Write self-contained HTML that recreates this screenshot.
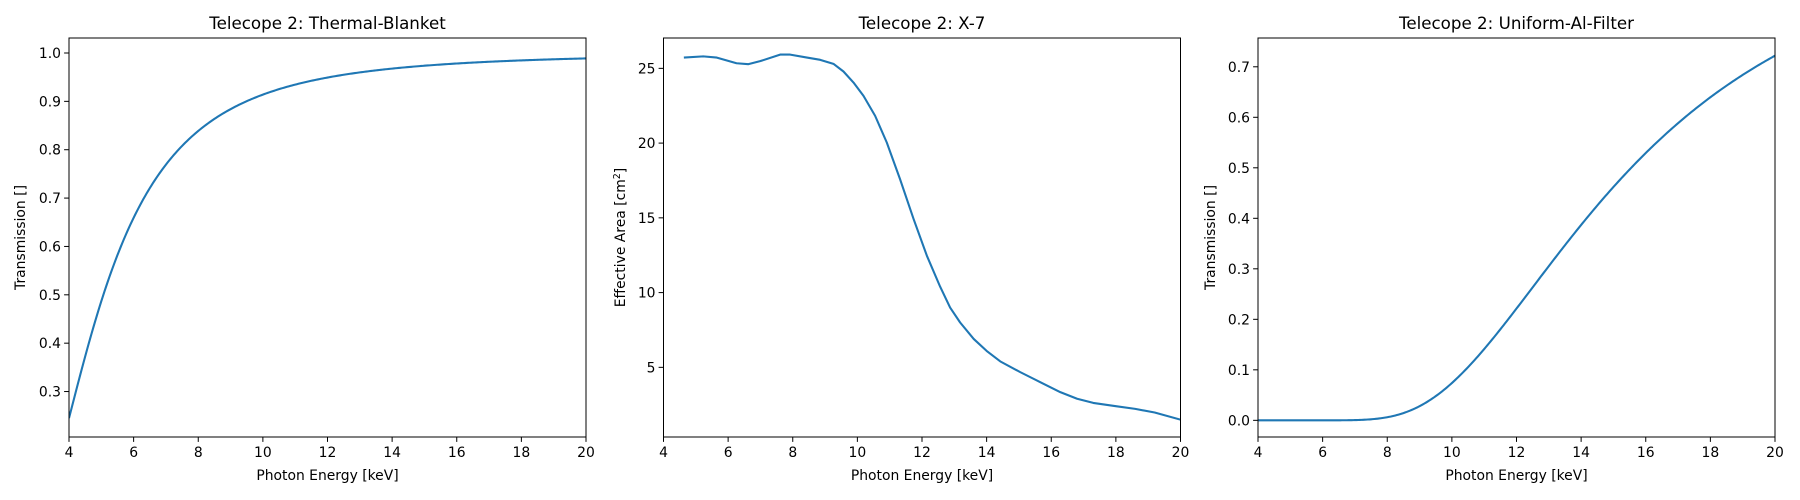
<!DOCTYPE html>
<html><head><meta charset="utf-8"><style>body{margin:0;background:#fff}svg{display:block}text{font-family:"DejaVu Sans","Liberation Sans",sans-serif;fill:#000}</style></head>
<body>
<svg id="s" width="1800" height="500" xmlns="http://www.w3.org/2000/svg"></svg>
<script>
const S=document.getElementById('s');let h='';
const T=38,B=437,W=517;
function plot(L,ymin,ymax,yt,fmt,title,ylab,ylabx,pts){
 const R=L+W;
 const X=v=>L+(v-4)/16*W, Y=v=>B-(v-ymin)/(ymax-ymin)*(B-T);
 h+=`<text x="${L+W/2}" y="29" font-size="16.7" text-anchor="middle">${title}</text>`;
 for(let v=4;v<=20;v+=2){const x=X(v);h+=`<line x1="${x}" y1="${B}" x2="${x}" y2="${B+4.9}" stroke="#000" stroke-width="1"/><text x="${x}" y="${B+20}" font-size="13.9" text-anchor="middle">${v}</text>`;}
 yt.forEach(v=>{const y=Y(v);h+=`<line x1="${L-4.9}" y1="${y}" x2="${L}" y2="${y}" stroke="#000" stroke-width="1"/><text x="${L-8}" y="${y+5}" font-size="13.9" text-anchor="end">${fmt(v)}</text>`;});
 h+=`<text x="${L+W/2}" y="480" font-size="13.9" text-anchor="middle">Photon Energy [keV]</text>`;
 h+=`<text transform="translate(${ylabx},${(T+B)/2}) rotate(-90)" font-size="13.9" text-anchor="middle">${ylab}</text>`;
 h+=`<clipPath id="c${L}"><rect x="${L}" y="${T}" width="${W}" height="${B-T}"/></clipPath>`;
 h+=`<polyline clip-path="url(#c${L})" fill="none" stroke="#1f77b4" stroke-width="2.08" stroke-linejoin="round" points="${pts.map(p=>X(p[0]).toFixed(2)+','+Y(p[1]).toFixed(2)).join(' ')}"/>`;
 h+=`<rect x="${L}" y="${T}" width="${W}" height="${B-T}" fill="none" stroke="#000" stroke-width="1"/>`;
}
const f1=[],f3=[];for(let e=4;e<=20.001;e+=0.05){f1.push([e,Math.exp(-90/e**3)]);f3.push([e,Math.exp(-2606/e**3)]);}
const p2=[[4.63,25.72],[5.23,25.8],[5.65,25.72],[6.26,25.34],[6.63,25.28],[6.99,25.48],[7.61,25.92],[7.92,25.92],[8.44,25.72],[8.85,25.57],[9.26,25.3],[9.57,24.79],[9.88,24.05],[10.19,23.16],[10.55,21.82],[10.91,20.04],[11.32,17.59],[11.74,14.92],[12.15,12.47],[12.56,10.4],[12.87,9.0],[13.18,8.0],[13.6,6.9],[14.0,6.1],[14.42,5.4],[15.04,4.68],[15.66,4.01],[16.28,3.34],[16.8,2.9],[17.3,2.62],[18,2.4],[18.6,2.22],[19.2,1.98],[20,1.5]];
plot(69,0.206,1.031,[0.3,0.4,0.5,0.6,0.7,0.8,0.9,1.0],v=>v.toFixed(1),'Telecope 2: Thermal-Blanket','Transmission []',25,f1);
plot(663.5,0.34,27.03,[5,10,15,20,25],v=>v,'Telecope 2: X-7','Effective Area [cm<tspan baseline-shift="super" font-size="9.5">2</tspan>]',625,p2);
plot(1258,-0.033,0.757,[0,0.1,0.2,0.3,0.4,0.5,0.6,0.7],v=>v.toFixed(1),'Telecope 2: Uniform-Al-Filter','Transmission []',1215,f3);
S.innerHTML=h;
</script>
</body></html>
